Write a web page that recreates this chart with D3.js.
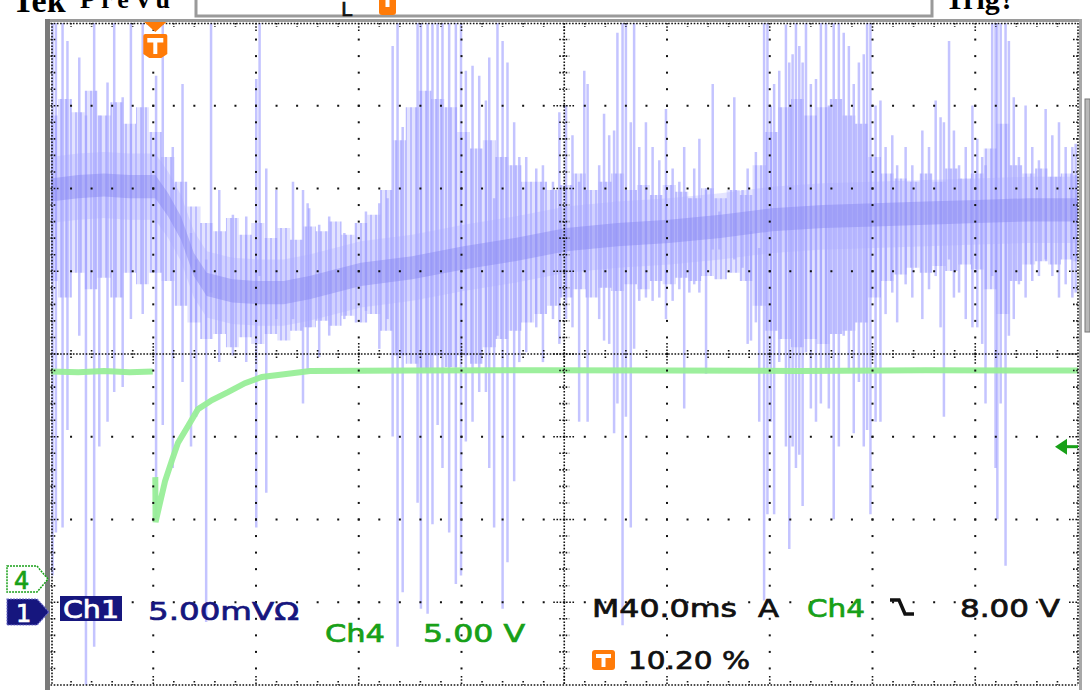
<!DOCTYPE html>
<html>
<head>
<meta charset="utf-8">
<style>
  html, body { margin: 0; padding: 0; background: #fff; overflow: hidden; }
  svg { display: block; }
  .lbl { font-family: "DejaVu Sans", sans-serif; font-size: 25px; stroke-width: 0.7px; }
  .hdr { font-family: "Liberation Serif", serif; font-weight: bold; }
</style>
</head>
<body>
<svg id="scope" width="1090" height="691"></svg>
<script src="https://cdn.jsdelivr.net/npm/d3@7"></script>
<script>
// Ch1 (5.00 mV/div): slow trend, time in ms after trigger
const ch1Time = [-40.8, -30, -20, -10, 0, 5, 10, 15, 20, 30, 40, 50, 60, 80, 100, 120, 140, 160, 180, 200, 220, 240, 260, 280, 300, 320, 340, 359.2];
const ch1Mean = [25.5, 25.7, 25.8, 25.7, 25.7, 24.6, 23.2, 21.0, 19.8, 19.4, 19.3, 19.3, 19.6, 20.4, 20.8, 21.4, 21.9, 22.5, 22.8, 23.0, 23.3, 23.7, 23.9, 24.0, 24.1, 24.2, 24.3, 24.3];

// Ch1 dense noise band, read every 5 ms (mV)
const bandTime = [-40.8, -35, -30, -25, -20, -15, -10, -5, 0, 5, 10, 15, 20, 25, 30, 35, 40, 45, 50, 55,
  60, 65, 70, 75, 80, 85, 90, 95, 100, 105, 110, 115, 120, 125, 130, 135, 140, 145, 150, 155,
  160, 165, 170, 175, 180, 185, 190, 195, 200, 205, 210, 215, 220, 225, 230, 235, 240, 245, 250, 255,
  260, 265, 270, 275, 280, 285, 290, 295, 300, 305, 310, 315, 320, 325, 330, 335, 340, 345, 350, 355, 359.2];
const bandHi = [30.0, 31.0, 30.2, 31.5, 30.0, 30.8, 29.5, 30.5, 29.0, 27.5, 26.0, 24.5, 23.5, 23.0, 23.8, 22.8, 23.5, 22.6, 23.2, 22.5,
  23.3, 23.0, 23.6, 22.8, 23.5, 24.0, 25.5, 28.5, 30.5, 31.5, 31.0, 30.5, 29.0, 28.0, 28.5, 27.5, 27.0, 26.0, 26.0, 25.5,
  25.8, 26.5, 25.5, 26.0, 26.5, 25.5, 25.8, 25.2, 25.8, 25.4, 25.0, 25.6, 25.0, 25.5, 25.2, 27.0, 29.0, 30.5, 31.0, 30.0,
  30.5, 31.0, 30.0, 29.5, 27.5, 26.5, 26.2, 26.0, 26.5, 26.0, 26.8, 26.2, 26.5, 28.0, 29.5, 27.0, 26.5, 26.8, 26.3, 26.5, 26.4];
const bandLo = [20.0, 19.0, 20.5, 19.5, 20.2, 19.0, 20.5, 19.8, 20.5, 20.0, 18.5, 17.5, 16.5, 16.8, 16.0, 16.6, 16.2, 16.8, 16.4, 17.0,
  17.2, 17.6, 17.3, 17.9, 17.5, 18.0, 17.0, 15.5, 15.0, 14.5, 15.5, 14.8, 15.5, 15.0, 16.0, 16.5, 17.0, 17.5, 18.0, 18.5,
  19.0, 19.5, 19.0, 19.6, 19.4, 19.8, 19.5, 20.0, 19.8, 20.2, 20.0, 20.3, 20.1, 20.5, 20.0, 18.5, 17.0, 16.5, 16.0, 16.5,
  16.2, 16.8, 17.0, 17.5, 19.0, 20.0, 20.4, 20.8, 20.5, 20.9, 20.6, 21.0, 20.7, 19.5, 18.0, 20.0, 21.0, 21.2, 21.0, 21.3, 21.2];

// Ch1 single excursions: [time ms, top mV, bottom mV]
const ch1Spikes = [
  [-40.0, 37, 2.2], [-38.7, 37, 4.8], [-36.1, 37, 5.1], [-34.2, 34.5, 11.0], [-29.6, 33.5, 16.7],
  [-27.0, 30.0, -4.5], [-23.8, 37, -2.1], [-21.8, 30.0, 10.0], [-18.6, 32.0, 11.5], [-16.0, 37, 13.3],
  [-12.7, 31.1, 13.6], [-9.5, 37, 17.7], [-4.9, 37, 18.0], [0.3, 32.4, 5.6], [2.9, 37, 11.3],
  [6.8, 28.1, 8.7], [10.6, 31.9, 13.9], [13.9, 22.9, 10.0], [15.9, 21.3, 11.8], [19.8, 21.3, -0.6],
  [21.7, 37, 19.3], [24.9, 25.5, 15.1], [30.2, 24.0, 15.5], [35.4, 23.9, 15.1], [39.3, 32.2, 5.1],
  [40.6, 37, 20.3], [43.2, 26.8, 7.2], [47.1, 25.5, 17.7], [53.6, 26.0, 17.7], [57.5, 25.5, 12.6],
  [59.3, 24.7, 14.6], [59.9, 24.4, 17.2], [63.8, 23.4, 15.4], [67.7, 23.9, 16.7], [73.6, 22.9, 17.7],
  [82.0, 24.2, 18.2], [87.2, 24.7, 15.9], [90.4, 25.0, 17.7], [92.4, 34.2, 10.6], [94.3, 37, -2.1],
  [96.3, 29.3, 1.2], [102.1, 37, 6.6], [103.4, 37, 0.2], [106.0, 37, -0.1], [107.9, 37, 5.3],
  [109.9, 37, 11.3], [111.8, 37, 8.7], [114.4, 37, 4.8], [117.0, 37, 1.7], [119.0, 37, 2.2],
  [120.9, 32.7, 10.3], [123.5, 33.0, 11.5], [126.1, 32.4, 13.3], [128.7, 30.9, 13.3], [130.0, 33.5, 8.7],
  [131.9, 25.0, 5.1], [133.2, 37, 16.7], [135.2, 34.5, 0.2], [137.1, 33.2, 3.0], [139.7, 29.6, 7.9],
  [141.7, 27.5, 15.1], [144.4, 27.5, 15.7], [148.3, 26.8, 17.2], [150.9, 27.0, 15.1], [154.8, 26.0, 17.7],
  [157.3, 30.2, 16.2], [159.9, 30.6, 17.7], [162.4, 28.8, 17.2], [165.0, 26.0, 11.5], [167.0, 32.7, 20.6],
  [168.3, 31.9, 11.5], [172.8, 27.0, 17.7], [174.7, 30.1, 16.4], [176.7, 28.8, 16.2], [178.6, 29.1, 10.8],
  [179.9, 35.0, 12.6], [181.9, 37, -0.8], [183.2, 37, 11.8], [185.1, 29.6, 5.1], [186.4, 37, 15.9],
  [188.4, 28.1, 18.8], [191.0, 29.6, 19.0], [193.6, 28.1, 18.8], [196.2, 27.3, 19.0], [198.8, 30.4, 17.7],
  [201.4, 26.8, 18.8], [204.0, 26.0, 19.5], [205.9, 28.1, 12.3], [207.9, 25.0, 19.3], [209.8, 26.8, 19.8],
  [211.8, 28.6, 19.3], [214.4, 25.5, 14.4], [217.0, 31.9, 21.9], [219.6, 24.2, 21.9], [225.4, 31.1, 21.3],
  [228.6, 25.5, 20.8], [230.6, 26.8, 16.2], [231.9, 23.0, 16.4], [233.8, 27.8, 17.5], [235.1, 22.0, 11.5],
  [237.0, 37, 0.7], [238.3, 37, 5.9], [239.6, 30.6, 11.5], [240.9, 31.9, 5.9], [242.9, 32.7, 15.1],
  [245.5, 35.5, 10.0], [246.8, 33.2, 3.8], [248.1, 33.7, 10.0], [249.4, 37, 8.7], [250.7, 34.2, 9.5],
  [252.0, 33.2, 6.4], [253.3, 37, 15.7], [255.2, 31.9, 12.3], [257.2, 32.2, 11.5], [259.1, 37, 12.6],
  [261.1, 37, 14.6], [262.2, 30.6, 12.3], [264.1, 37, 5.6], [266.1, 37, 10.0], [268.0, 35.0, 16.7],
  [270.0, 34.2, 14.6], [271.9, 31.9, 10.8], [273.9, 33.2, 13.9], [275.8, 33.7, 10.0], [277.1, 37, 11.0],
  [278.4, 37, 5.9], [280.4, 30.6, 11.5], [282.3, 30.9, 11.5], [284.3, 28.1, 18.0], [286.9, 28.8, 19.3],
  [288.8, 27.0, 17.5], [292.1, 28.1, 19.8], [294.7, 27.0, 19.0], [298.6, 29.1, 17.7], [301.2, 28.1, 19.5],
  [303.8, 30.9, 20.3], [305.7, 29.9, 17.2], [307.0, 29.6, 11.8], [309.0, 34.5, 21.3], [310.9, 29.1, 19.0],
  [312.9, 27.0, 19.3], [315.5, 28.1, 17.7], [318.1, 30.6, 17.2], [320.0, 28.6, 17.2], [321.9, 27.5, 16.2],
  [323.2, 27.0, 12.6], [325.8, 37, 20.3], [327.1, 37, 8.7], [327.8, 37, 5.6], [329.1, 37, 12.6],
  [331.0, 37, 2.8], [332.3, 34.5, 16.7], [334.2, 31.1, 17.7], [336.2, 27.5, 19.8], [338.8, 30.6, 19.0],
  [341.4, 28.1, 20.0], [344.0, 27.3, 20.3], [346.6, 30.4, 21.3], [349.2, 28.8, 20.3], [351.8, 29.6, 19.0],
  [354.4, 28.1, 19.8], [357.0, 28.1, 19.0], [358.3, 28.3, 19.3]
];

// Ch4 (5.00 V/div): before and after the falling-edge trigger, [ms, V]
const ch4Pre = [[-40.8, 12.55], [-30, 12.5], [-20, 12.58], [-10, 12.5], [-1, 12.55]];
const ch4Post = [[0, 6.16], [0.1, 3.44], [1.8, 4.59], [3.8, 5.92], [6.5, 7.19], [8.8, 8.22], [12.7, 9.24],
  [16.6, 10.27], [22.1, 10.82], [28.3, 11.30], [34.9, 11.84], [41.5, 12.21], [47.8, 12.33], [60.2, 12.57],
  [100, 12.6], [150, 12.62], [200, 12.6], [250, 12.58], [300, 12.62], [359.2, 12.6]];

// scope settings / readouts
const ch1Ground = 0, ch4Ground = 0, trigLevel = 8.00;
const ch1Readout = ["Ch1", "5.00mVΩ"];
const ch4Readout = ["Ch4", "5.00 V"];
const timeReadout = ["M40.0ms", "A", "Ch4", "8.00 V"];
const trigPosReadout = "10.20 %";

const plot = { left: 50.5, right: 1078, top: 23, bottom: 685 };
const x = d3.scaleLinear().domain([-40.8, 359.2]).range([plot.left, plot.right]);
const y1 = d3.scaleLinear().domain([-4.41, 35.59]).range([plot.bottom, plot.top]);
const y4 = d3.scaleLinear().domain([-6.40, 33.60]).range([plot.bottom, plot.top]);
const gx = d3.scaleLinear().domain([0, 10]).range([plot.left, plot.right]);
const gy = d3.scaleLinear().domain([0, 8]).range([plot.top, plot.bottom]);

const navy = "#16167e", green = "#18a018", orange = "#ff7b08";
const svg = d3.select("#scope");
const defs = svg.append("defs");
defs.append("clipPath").attr("id", "clip").append("rect")
  .attr("x", plot.left).attr("y", plot.top)
  .attr("width", plot.right - plot.left).attr("height", plot.bottom - plot.top);
const pat = defs.append("pattern").attr("id", "hatch").attr("patternUnits", "userSpaceOnUse")
  .attr("width", 5).attr("height", 7);
pat.append("rect").attr("width", 5).attr("height", 7).attr("fill", "#c8c8ff").attr("fill-opacity", 0.5);
pat.append("rect").attr("width", 2).attr("height", 7).attr("fill", "#a4a4ff").attr("fill-opacity", 0.6);

svg.append("rect").attr("width", 1090).attr("height", 691).attr("fill", "#fff");

// ---- header strip (mostly cut off at the top) ----
svg.append("text").attr("class", "hdr").attr("x", 12).attr("y", 12).style("font-size", "34px").text("Tek");
svg.append("text").attr("class", "hdr").attr("x", 80).attr("y", 8).style("font-size", "26px")
  .attr("textLength", 90).text("PreVu");
svg.append("text").attr("class", "hdr").attr("x", 945).attr("y", 9).style("font-size", "30px")
  .attr("textLength", 70).text("Trig?");
svg.append("path").attr("d", "M196,0V16H932V0").attr("fill", "none").attr("stroke", "#9a9a9a").attr("stroke-width", 3);
svg.append("text").attr("class", "lbl").attr("x", 341).attr("y", 16).style("font-size", "20px").attr("fill", "#111").attr("stroke", "#111").text("L");
svg.append("path").attr("d", "M379,-5H396V12Q396,15 393,15H382Q379,15 379,12Z").attr("fill", orange);
svg.append("rect").attr("x", 385.5).attr("y", -5).attr("width", 4).attr("height", 12).attr("fill", "#fff");
svg.append("rect").attr("x", 1085).attr("y", 99).attr("width", 5).attr("height", 233)
  .attr("fill", "#b8b8b8").attr("stroke", "#777").attr("stroke-width", 1);

function label(txt, x0, x1, base, color) {
  svg.append("text").attr("class", "lbl").attr("x", x0).attr("y", base)
    .attr("textLength", x1 - x0).attr("lengthAdjust", "spacingAndGlyphs")
    .attr("fill", color).attr("stroke", color).text(txt);
}

// ---- traces ----
const tr = svg.append("g").attr("clip-path", "url(#clip)");
const band = d3.area().curve(d3.curveStep).x(d => x(d))
  .y0((d, i) => y1(bandLo[i])).y1((d, i) => y1(bandHi[i]));
tr.append("path").datum(bandTime).attr("d", band).attr("fill", "url(#hatch)");
tr.selectAll("line.sp").data(ch1Spikes).join("line").attr("class", "sp")
  .attr("x1", d => x(d[0])).attr("x2", d => x(d[0]))
  .attr("y1", d => y1(d[1])).attr("y2", d => y1(d[2]))
  .attr("stroke", "#9c9cff").attr("stroke-opacity", 0.6).attr("stroke-width", 2.5);
const inner = d3.area().x(d => x(d)).y0((d, i) => y1(ch1Mean[i] - 2.0)).y1((d, i) => y1(ch1Mean[i] + 2.0));
tr.append("path").datum(ch1Time).attr("d", inner).attr("fill", "#a8a8ff").attr("fill-opacity", 0.3);
const core = d3.area().x(d => x(d)).y0((d, i) => y1(ch1Mean[i] - 0.7)).y1((d, i) => y1(ch1Mean[i] + 0.7));
tr.append("path").datum(ch1Time).attr("d", core).attr("fill", "#8686f0").attr("fill-opacity", 0.45);

const line4 = d3.line().x(d => x(d[0])).y(d => y4(d[1]));
[ch4Pre, ch4Post].forEach(seg => {
  tr.append("path").datum(seg).attr("d", line4).attr("fill", "none")
    .attr("stroke", "#98ee98").attr("stroke-width", 6).attr("stroke-opacity", 0.95);
});

// ---- graticule ----
const gr = svg.append("g");
const dots = [];
for (let i = 1; i < 10; i++) if (i !== 5) for (let j = 1; j < 40; j++) dots.push([gx(i), gy(j / 5)]);
for (let j = 1; j < 8; j++) if (j !== 4) for (let i = 1; i < 50; i++) dots.push([gx(i / 5), gy(j)]);
gr.selectAll("rect.dot").data(dots).join("rect").attr("class", "dot")
  .attr("x", d => d[0] - 1).attr("y", d => d[1] - 1).attr("width", 2).attr("height", 2).attr("fill", "#111");

const dotted = { stroke: "#111", "stroke-width": 1.6, "stroke-dasharray": "1.6,1.6" };
function seg(x1, y1_, x2, y2_, style) {
  const l = gr.append("line").attr("x1", x1).attr("y1", y1_).attr("x2", x2).attr("y2", y2_);
  Object.entries(style).forEach(([k, v]) => l.attr(k, v));
}
// centre cross
seg(plot.left, gy(4), plot.right, gy(4), dotted);
seg(gx(5), plot.top, gx(5), plot.bottom, dotted);
for (let i = 1; i < 50; i++) {
  const len = i % 5 === 0 ? 11 : 4;
  seg(gx(i / 5), gy(4) - len, gx(i / 5), gy(4) + len, dotted);
}
for (let j = 1; j < 40; j++) {
  const len = j % 5 === 0 ? 11 : 5;
  seg(gx(5) - len, gy(j / 5), gx(5) + len, gy(j / 5), dotted);
}
// frame
svg.append("rect").attr("x", 45).attr("y", 19).attr("width", 1037).attr("height", 3).attr("fill", "#9a9a9a");
svg.append("rect").attr("x", 45).attr("y", 19).attr("width", 5).attr("height", 671).attr("fill", "#7a7a7a");
svg.append("rect").attr("x", 1079).attr("y", 19).attr("width", 3).attr("height", 671).attr("fill", "#a8a8a8");
seg(plot.left, plot.top + 0.5, plot.right, plot.top + 0.5, dotted);
seg(plot.left, plot.bottom, plot.right, plot.bottom, dotted);
seg(plot.left + 1.5, plot.top, plot.left + 1.5, plot.bottom, dotted);
seg(plot.right, plot.top, plot.right, plot.bottom, dotted);
for (let i = 1; i < 50; i++) {
  const len = i % 5 === 0 ? 9 : 4;
  seg(gx(i / 5), plot.top, gx(i / 5), plot.top + len, dotted);
  seg(gx(i / 5), plot.bottom - len, gx(i / 5), plot.bottom, dotted);
}
for (let j = 1; j < 40; j++) {
  const len = j % 5 === 0 ? 9 : 5;
  seg(plot.left, gy(j / 5), plot.left + len, gy(j / 5), dotted);
  seg(plot.right - len, gy(j / 5), plot.right, gy(j / 5), dotted);
}

// ---- readouts ----
svg.append("rect").attr("x", 60).attr("y", 596).attr("width", 62).attr("height", 25).attr("fill", navy);
label(ch1Readout[0], 63, 119, 618, "#fff");
label(ch1Readout[1], 148, 299, 620, navy);
label(ch4Readout[0], 325, 385, 642, green);
label(ch4Readout[1], 423, 525, 642, green);
label(timeReadout[0], 592, 737, 617, "#111");
label(timeReadout[1], 758, 779, 617, "#111");
label(timeReadout[2], 807, 865, 617, green);
label(timeReadout[3], 960, 1060, 617, "#111");
svg.append("path").attr("d", "M890,600H899L905,614H914").attr("fill", "none").attr("stroke", "#111").attr("stroke-width", 3.5);
svg.append("rect").attr("x", 592).attr("y", 650).attr("width", 23).attr("height", 20).attr("rx", 3).attr("fill", orange);
svg.append("path").attr("d", "M596,654H611V658H605.5V667H601.5V658H596Z").attr("fill", "#fff");
label(trigPosReadout, 628, 750, 669, "#111");

// trigger position marker
const tx = x(0);
svg.append("path").attr("d", `M${tx - 11},22H${tx + 11}L${tx},32Z`).attr("fill", orange);
svg.append("path").attr("d", `M${tx - 12},36Q${tx - 12},34 ${tx - 10},34H${tx + 10}Q${tx + 12},34 ${tx + 12},36V54L${tx + 6},58H${tx - 6}L${tx - 12},54Z`).attr("fill", orange);
svg.append("path").attr("d", `M${tx - 8},38H${tx + 8}V42.5H${tx + 2}V54H${tx - 2}V42.5H${tx - 8}Z`).attr("fill", "#fff");

// ground markers
const g4 = y4(ch4Ground), g1 = y1(ch1Ground);
svg.append("path").attr("d", `M7,${g4 - 13}H37L48,${g4}L37,${g4 + 13}H7Z`).attr("fill", "#fff")
  .attr("stroke", green).attr("stroke-width", 1.5).attr("stroke-dasharray", "2,1");
svg.append("text").attr("class", "lbl").attr("x", 14).attr("y", g4 + 10).attr("fill", green).attr("stroke", green).style("font-size", "24px").text("4");
svg.append("path").attr("d", `M7,${g1 - 13}H37L49,${g1}L37,${g1 + 13}H7Z`).attr("fill", navy)
  .attr("stroke", "#6a6ac8").attr("stroke-width", 1.2).attr("stroke-dasharray", "2,1");
svg.append("text").attr("class", "lbl").attr("x", 16).attr("y", g1 + 10).attr("fill", "#fff").attr("stroke", "#fff").style("font-size", "24px").text("1");

// trigger level arrow
const tl = y4(trigLevel);
svg.append("path").attr("d", `M1055,${tl}L1067,${tl - 8}V${tl + 8}Z`).attr("fill", green);
svg.append("line").attr("x1", 1066).attr("x2", 1078).attr("y1", tl).attr("y2", tl).attr("stroke", green).attr("stroke-width", 3);
</script>
</body>
</html>
